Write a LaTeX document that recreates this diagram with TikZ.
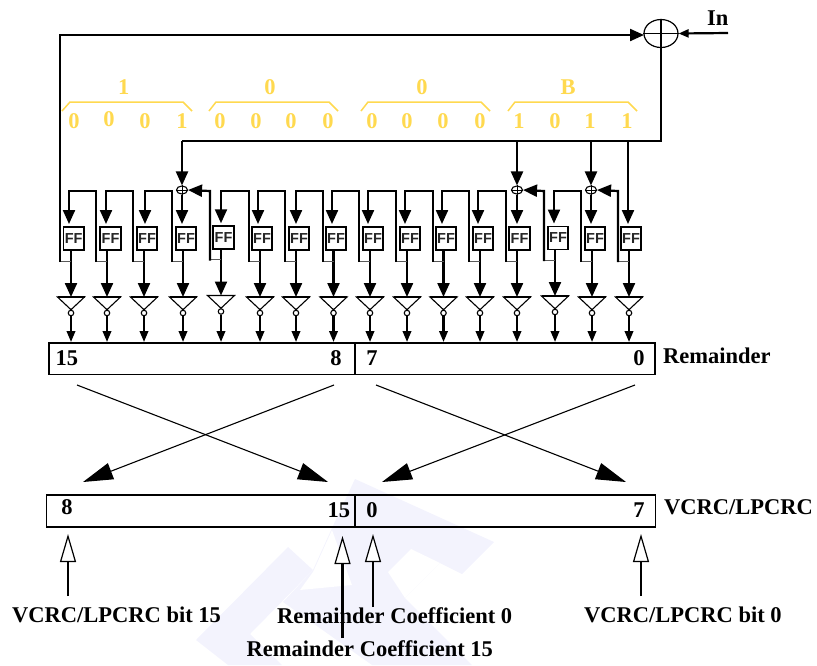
\documentclass[tikz,border=0pt]{standalone}
\usepackage{fontspec}
\setmainfont{Liberation Serif}
\newfontfamily\ffsans{Liberation Sans}
\usetikzlibrary{arrows.meta,shapes.geometric,calc}
\definecolor{crcyellow}{HTML}{FFD94F}
\definecolor{wm}{HTML}{F3F3FD}
\tikzset{
  x=1pt,y=-1pt,
  wire/.style={line width=2.2pt,black},
  bighead/.style={-{Triangle[length=14pt,width=12pt]}},
  smallhead/.style={-{Triangle[length=11pt,width=8.5pt]}},
  openhead/.style={-{Triangle[open,length=28pt,width=16pt,line width=1.2pt,fill=white]}},
  crosshead/.style={line width=1.1pt,-{Triangle[length=30pt,width=17pt]}},
  ffbox/.style={draw,line width=1.9pt,minimum width=20.5pt,minimum height=23pt,inner sep=0pt,fill=white,text=black!85,font=\ffsans\bfseries\fontsize{14.5}{15}\selectfont},
  invtri/.style={line width=1.1pt,line join=miter},
  bubble/.style={circle,draw,line width=1.1pt,fill=white,minimum size=5.5pt,inner sep=0pt},
  xorsmall/.style={ellipse,draw,line width=1.1pt,minimum width=11pt,minimum height=8pt,inner sep=0pt},
  regbox/.style={draw,line width=1.8pt,inner sep=0pt,anchor=north west},
  lab/.style={inner sep=0pt,anchor=base,font=\bfseries\fontsize{22.5}{24}\selectfont},
  labl/.style={lab,anchor=base west},
  yel/.style={lab,text=crcyellow},
  brace/.style={draw=crcyellow,line width=1.5pt}
}
\begin{document}
\begin{tikzpicture}
\useasboundingbox (0,0) rectangle (817,665);
% watermark
\fill[wm] (288,547)--(313,570)--(250,634)--(282,665)--(228,665)--(196,640)--cycle;
\fill[wm] (355,479)--(494,542)--(462,574)--(440,563)--(405,598)--(472,665)--(372,665)--(283,602)--(313,570)--(332,528)--cycle;
\fill[white] (411,549)--(440,563)--(405,598)--(388,572)--cycle;
\fill[white] (313,572)--(332,530)--(352,585)--(300,590)--cycle;

% main xor and bus
\node[ellipse,draw,line width=1.2pt,minimum width=34pt,minimum height=28pt,inner sep=0pt] (mainxor) at (661,33.5) {};
\draw[line width=1.2pt] (mainxor.west)--(mainxor.east);
\draw[line width=1.2pt] (mainxor.north)--(mainxor.south);
\coordinate (inend) at (728,33);
\coordinate (busr) at (661,141);
\coordinate (busl) at (182,141);
\draw[wire,-{Triangle[length=10pt,width=8pt]}] (inend) -- (mainxor.east);
\draw[wire] (mainxor.south) -- (busr) -- (busl);

% small xors
\foreach \n/\x in {4/182,13/517,15/591}{
  \node[xorsmall] (sx\n) at (\x,190) {};
  \draw[line width=1pt] (sx\n.west)--(sx\n.east);
  \draw[line width=1pt] (sx\n.north)--(sx\n.south);
  \coordinate (sb\n) at (\x,141);
  \draw[wire,bighead] (sb\n) -- (sx\n.north);
}

% stages: index / box centre / input x / output x / feedback x / vertical shift
\foreach \i/\c/\a/\o/\l/\s in {
 1/73.7/69/71/60/0, 2/110.5/106/107/96/0, 3/147/145/144/133/0, 4/186/182/183/172/0,
 5/223.5/221/221/210/-1.5, 6/262/258/260/249/0, 7/299/296/296/285/0, 8/336/332/333.5/323/0,
 9/373/368/370/359/0, 10/410/405/407/396/0, 11/446/442/443.5/433/0, 12/483/478/480/469/0,
 13/519.5/517/517/506/0, 14/558/554/555/544/-1, 15/595/591/592/581/0, 16/631/628/629/618/0}{
  \node[ffbox] (ff\i) at (\c,238.5+0.5*\s) {FF};
  \coordinate (in\i) at (\a,224+0.5*\s);
  \coordinate (outa\i) at (\o,250+0.5*\s);
  \coordinate (itop\i) at (\o,297+\s);
  \coordinate (iL\i) at (\o-13.5,297+\s);
  \coordinate (iR\i) at (\o+13.5,297+\s);
  \node[bubble] (bub\i) at (\o,313+\s) {};
  \coordinate (rtop\i) at (\o,342);
  \coordinate (tap\i) at (\l,261+\s);
  \coordinate (tapo\i) at (\o,261+\s);
  \coordinate (fbtop\i) at (\l,191);
  \draw[invtri,fill=white] (iL\i) -- (iR\i) -- (bub\i.north) -- cycle;
  \draw[line width=1.6pt] (iL\i) -- (iR\i);
  \draw[wire,bighead] (outa\i) -- (itop\i);
  \draw[wire,smallhead] (bub\i.south) -- (rtop\i);
  \draw[line width=1pt,black!65] (tap\i) -- (tapo\i);
}

% shift chain
\foreach \n/\p/\a in {2/1/69,3/2/106,4/3/145,6/5/221,7/6/258,8/7/296,9/8/332,10/9/368,11/10/405,12/11/442,13/12/478,15/14/554}{
  \coordinate (ct\n) at (\a,191);
  \draw[wire,bighead,line join=miter] ($(tap\n)+(0,1)$) -- (fbtop\n) -- (ct\n) -- (in\p);
}
\foreach \n/\t in {5/4,14/13,16/15}{
  \draw[wire,bighead] ($(tap\n)+(0,1)$) -- (fbtop\n) -- (sx\t.east);
}
\foreach \n in {4,13,15}{
  \draw[wire,bighead] (sx\n.south) -- (in\n);
}
\coordinate (bus16) at (628,141);
\draw[wire,bighead] (bus16) -- (in16);
\coordinate (fbcorner) at (60,35);
\coordinate (xorin) at (644,35);
\draw[wire,bighead] ($(tap1)+(0,1)$) -- (fbcorner) -- (xorin);

% yellow braces
\draw[brace] (62,111)--(70,102)--(183,102)--(192,111);
\draw[brace] (209,111)--(216,102)--(329,102)--(338,111);
\draw[brace] (361,111)--(368,102)--(481,102)--(490,111);
\draw[brace] (508,111)--(515,102)--(628,102)--(637,111);
\node[yel] (h1) at (123.7,94) {1};
\node[yel] (h2) at (270,94) {0};
\node[yel] (h3) at (422,94) {0};
\node[yel] (h4) at (568,94) {B};
\foreach \k/\x/\d/\b in {1/74/0/128,2/109/0/126.5,3/145/0/128,4/182/1/128,5/220/0/128,6/256/0/128,7/291/0/128,8/328/0/128,
  9/372/0/128,10/407/0/128,11/443/0/128,12/480/0/128,13/519/1/128,14/555/0/128,15/590/1/128,16/627/1/128}{
  \node[yel] (d\k) at (\x,\b) {\d};
}
\node[labl] (intxt) at (707,25) {In};

% registers
\node[regbox,minimum width=606pt,minimum height=31.5pt] (rem) at (48,342) {};
\coordinate (remdt) at (355,342);
\coordinate (remdb) at (355,373.5);
\draw[line width=1.6pt] (remdt) -- (remdb);
\node[regbox,minimum width=609pt,minimum height=32pt] (vcrc) at (45.5,494) {};
\coordinate (vdt) at (355,494);
\coordinate (vdb) at (355,526);
\draw[line width=1.6pt] (vdt) -- (vdb);

\node[labl] (r15) at (55.5,365) {15};
\node[lab] (r8) at (336,365.5) {8};
\node[lab] (r7) at (372,365.5) {7};
\node[lab] (r0) at (639,365) {0};
\node[labl] (remtxt) at (663,363) {Remainder};
\node[lab] (v8) at (67,514) {8};
\node[labl] (v15) at (327.5,517) {15};
\node[lab] (v0) at (372,517) {0};
\node[lab] (v7) at (639,517) {7};
\node[labl] (vtxt) at (664,514) {VCRC/LPCRC};

% crossing arrows
\coordinate (a1) at (77,385); \coordinate (a2) at (328,482);
\coordinate (b1) at (334,385); \coordinate (b2) at (83,482);
\coordinate (c1) at (376,385); \coordinate (c2) at (626,482);
\coordinate (e1) at (635,385); \coordinate (e2) at (382,482);
\draw[crosshead] (a1) -- (a2);
\draw[crosshead] (b1) -- (b2);
\draw[crosshead] (c1) -- (c2);
\draw[crosshead] (e1) -- (e2);

% bottom labels
\node[labl] (l1) at (12,622) {VCRC/LPCRC bit 15};
\node[labl] (l2) at (277,623) {Remainder Coefficient 0};
\node[labl] (l3) at (246.5,656) {Remainder Coefficient 15};
\node[labl] (l4) at (584,622) {VCRC/LPCRC bit 0};

% open arrows
\coordinate (p1) at (68,596); \coordinate (p1t) at (68,534);
\coordinate (p2) at (342.5,638); \coordinate (p2t) at (342.5,536);
\coordinate (p3) at (373,607); \coordinate (p3t) at (373,534);
\coordinate (p4) at (641,596); \coordinate (p4t) at (641,534);
\foreach \n in {1,2,3,4}{
  \draw[wire,openhead] (p\n) -- (p\n t);
}
\end{tikzpicture}
\end{document}
